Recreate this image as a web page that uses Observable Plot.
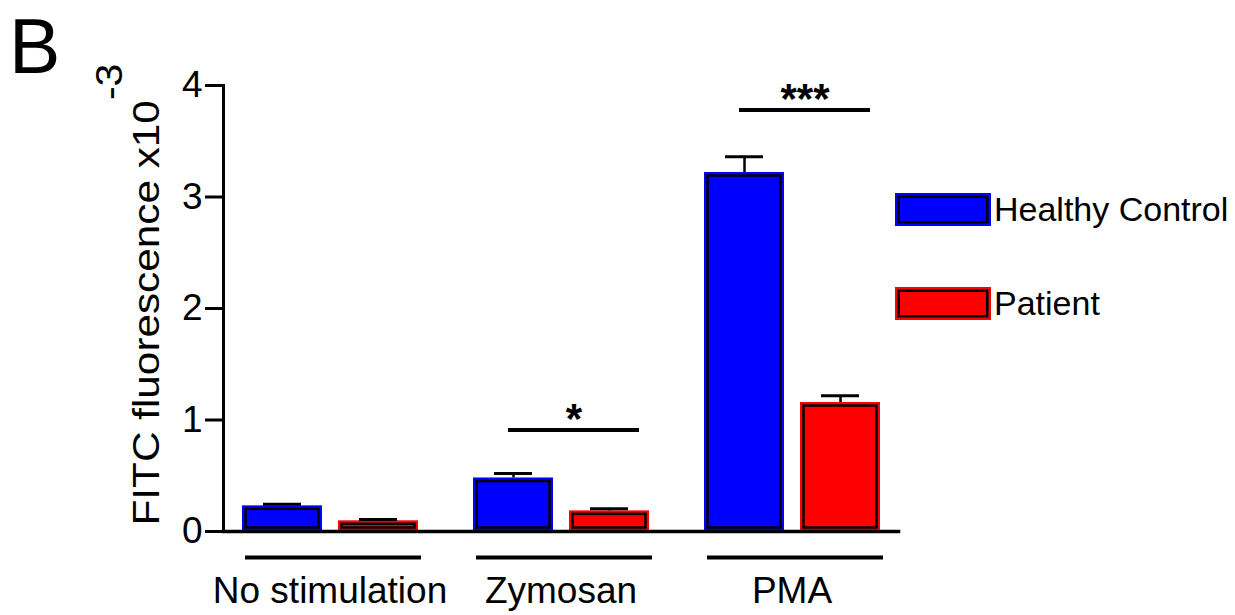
<!DOCTYPE html>
<html><head><meta charset="utf-8">
<script src="https://cdn.jsdelivr.net/npm/d3@7"></script>
<script src="https://cdn.jsdelivr.net/npm/@observablehq/plot@0.6"></script>
<style>
body{margin:0;background:#fff;font-family:"Liberation Sans",Arial,sans-serif;color:#000;}
#wrap{position:relative;width:1235px;height:615px;overflow:hidden;}
#chart{position:absolute;left:0;top:0;}
#panel{position:absolute;left:5px;top:4px;font-size:77px;line-height:1.1;padding:0 4px;}
.leg{position:absolute;left:895px;height:33px;display:flex;align-items:center;font-size:34px;white-space:nowrap;}
.sw{width:96px;height:33px;box-sizing:border-box;margin-right:3px;}
</style></head><body>
<div id="wrap"><div id="chart"></div><div id="panel">B</div><div id="legend"></div></div>
<script>
const groups = ["No stimulation", "Zymosan", "PMA"];
const series = ["Healthy Control", "Patient"];
const colors = ["#0000ff", "#ff0000"];
const hcMean = [0.23, 0.48, 3.22];
const hcErr = [0.015, 0.04, 0.14];
const ptMean = [0.096, 0.185, 1.157];
const ptErr = [0.012, 0.02, 0.06];
const sigGroups = ["Zymosan", "PMA"];
const sigY = [0.91, 3.78];
const sigLabel = ["*", "***"];
const yTicks = [0, 1, 2, 3, 4];
const yTitle = "FITC fluorescence x10";
const ySup = "-3";

const rows = groups.flatMap((g, i) => [
  {group: g, series: series[0], value: hcMean[i], upper: hcMean[i] + hcErr[i]},
  {group: g, series: series[1], value: ptMean[i], upper: ptMean[i] + ptErr[i]}
]);
const sig = sigGroups.map((g, i) => ({group: g, y: sigY[i], label: sigLabel[i]}));

const chart = Plot.plot({
  width: 1235, height: 615,
  marginLeft: 223, marginRight: 337, marginTop: 85, marginBottom: 84,
  style: {fontFamily: '"Liberation Sans", Arial, sans-serif', fontSize: "37px", color: "#000", background: "transparent", overflow: "visible"},
  fx: {domain: groups, paddingInner: 0.078, paddingOuter: 0},
  x: {domain: series, paddingInner: 0.1667, paddingOuter: 0.1875, axis: null},
  y: {domain: [0, 4]},
  color: {domain: series, range: colors},
  marks: [
    Plot.barY(rows, {fx: "group", x: "series", y: "value", fill: "series"}),
    Plot.barY(rows, {fx: "group", x: "series", y: "value", fill: "none", stroke: "#000", strokeWidth: 2.5, inset: 3.5}),
    Plot.ruleX(rows, {fx: "group", x: "series", y1: "value", y2: "upper", strokeWidth: 2.5}),
    Plot.tickY(rows, {fx: "group", x: "series", y: "upper", strokeWidth: 3, insetLeft: 21, insetRight: 21}),
    Plot.ruleY(sig, {fx: "group", y: "y", strokeWidth: 4, insetLeft: 54, insetRight: 28}),
    Plot.text(sig, {fx: "group", y: "y", text: "label", fontSize: 42, fontWeight: "bold", lineAnchor: "bottom", dx: 13, dy: 3}),
    Plot.ruleY([0], {dy: 26, strokeWidth: 4, insetLeft: 22, insetRight: 15}),
    Plot.frame({anchor: "left", facet: "super", strokeWidth: 3}),
    Plot.frame({anchor: "bottom", facet: "super", strokeWidth: 3.5}),
    Plot.axisY({ticks: yTicks, tickSize: 18, tickPadding: 3, strokeWidth: 3, fontSize: 37, label: null, tickFormat: d => String(d)}),
    Plot.axisFx({anchor: "bottom", tickSize: 0, tickPadding: 45, fontSize: 37, label: null}),
    Plot.text([yTitle], {facet: "super", frameAnchor: "left", textAnchor: "middle", rotate: -90, dx: -65, dy: -14, lineAnchor: "bottom", fontSize: 37, text: d => d})
  ]
});
document.getElementById("chart").appendChild(chart);

// superscript on the y title
const svg = chart.tagName.toLowerCase() === "svg" ? chart : chart.querySelector("svg");
const t = Array.from(svg.querySelectorAll("text")).find(e => e.textContent === yTitle);
if (t) {
  d3.select(t).append("tspan").attr("dy", -37).style("font-size", "36px").text(ySup);
  t.setAttribute("textLength", 462);
  t.setAttribute("lengthAdjust", "spacingAndGlyphs");
}

// legend
const legend = document.getElementById("legend");
const legTops = [193, 287];
series.forEach((s, i) => {
  const row = document.createElement("div");
  row.className = "leg";
  row.style.top = legTops[i] + "px";
  const sw = document.createElement("div");
  sw.className = "sw";
  sw.style.background = colors[i];
  sw.style.boxShadow = `inset 0 0 0 2.5px ${colors[i]}, inset 0 0 0 5px #000`;
  const lab = document.createElement("span");
  lab.textContent = s;
  row.appendChild(sw); row.appendChild(lab);
  legend.appendChild(row);
});
</script>
</body></html>
